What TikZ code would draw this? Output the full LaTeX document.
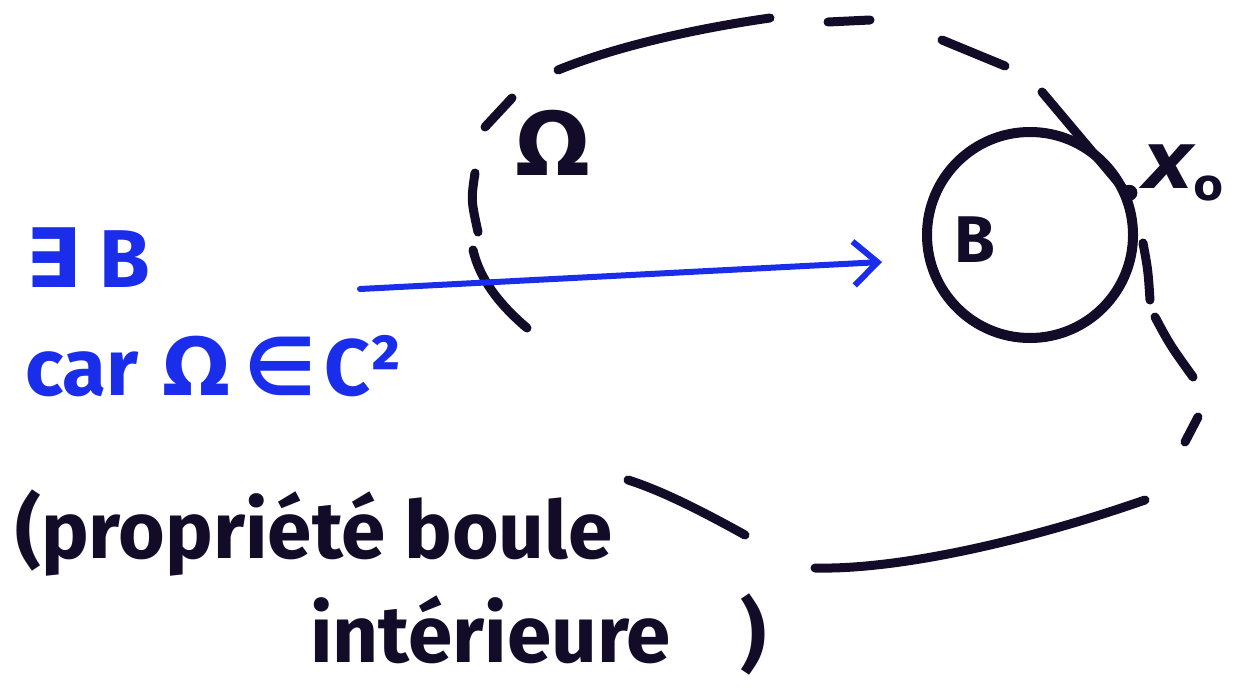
\documentclass[tikz,border=0pt]{standalone}
\usepackage{fontspec}
\setmainfont{Fira Sans}
\newfontfamily\sym{DejaVu Sans}
\usetikzlibrary{arrows.meta}
\definecolor{ink}{RGB}{18,12,40}
\definecolor{pen}{RGB}{25,45,235}
\begin{document}
\begin{tikzpicture}[x=1pt,y=-1pt,
  stroke/.style={draw=ink, line width=9pt, line cap=round},
  bluetext/.style={text=pen, anchor=base west, inner sep=0pt},
  blacktext/.style={text=ink, anchor=base west, inner sep=0pt}]
\fill[white] (0,0) rectangle (1246,693);
\useasboundingbox (0,0) rectangle (1246,693);
% dashed boundary of Omega
\draw[stroke] (558,70) .. controls (620,45) and (700,28) .. (770,18);
\draw[stroke] (828,22) -- (870,20);
\draw[stroke] (942,40) -- (1005,66);
\draw[stroke] (1042,92) -- (1127,193);
\draw[stroke] (1143,243) .. controls (1148,270) .. (1150,300);
\draw[stroke] (1155,317) .. controls (1170,345) .. (1193,377);
\draw[stroke] (1198,417) -- (1185,442);
\draw[stroke] (1145,500) .. controls (1030,540) and (900,570) .. (815,568);
\draw[stroke] (745,535) .. controls (700,510) and (660,490) .. (628,480);
\draw[stroke] (527,328) .. controls (500,305) and (480,280) .. (473,250);
\draw[stroke] (478,232) .. controls (471,200) .. (475,173);
\draw[stroke] (485,127) -- (512,98);
% ball
\node[draw=ink, line width=10pt, circle, minimum size=206pt, inner sep=0pt] (ball) at (1030,235) {};
\node[circle, fill=ink, minimum size=16pt, inner sep=0pt] (x0) at (ball.23) {};
\node[text=ink, font=\fontsize{66}{66}\selectfont\bfseries] (blabel) at (975,240) {B};
\node[text=ink, font=\fontsize{80}{80}\selectfont\sym\bfseries, anchor=base west, inner sep=0pt] (x0label) at (1142,188) {\itshape x\raisebox{-12pt}{\fontsize{44}{44}\selectfont\upshape o}};
\node[text=ink, font=\fontsize{88}{88}\selectfont\sym\bfseries] (omega) at (553,143) {Ω};
% arrow
\coordinate (astart) at (360,289);
\coordinate (aend) at (882,262);
\draw[pen, line width=6pt, line cap=round, -{Straight Barb[length=24pt,width=44pt]}] (astart) -- (aend);
% texts
\node[bluetext, font=\fontsize{82}{82}\selectfont\bfseries] (exist) at (25,287) {{\sym ∃}\hspace{18pt}B};
\node[bluetext, font=\fontsize{80}{80}\selectfont\bfseries] (car) at (25,395) {car\hspace{24pt}{\sym Ω}\hspace{14pt}{\sym ∈}\hspace{8pt}C²};
\node[blacktext, font=\fontsize{80}{80}\selectfont\bfseries] (prop) at (15,558) {(propriété boule};
\node[blacktext, font=\fontsize{80}{80}\selectfont\bfseries] (inter) at (310,662) {intérieure\hspace{70pt})};
\end{tikzpicture}
\end{document}
